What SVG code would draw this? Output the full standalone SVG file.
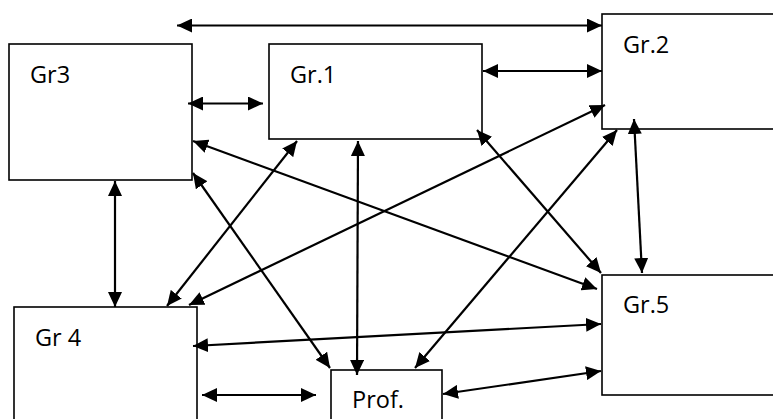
<svg xmlns="http://www.w3.org/2000/svg" width="773" height="419" viewBox="0 0 773 419">
<style>
.box{fill:#fff;stroke:#000;stroke-width:1.6}
.lbl{font-family:"Open Sans","Liberation Sans",sans-serif;font-size:23.5px;fill:#000}
.c{stroke:#000;stroke-width:2.2;fill:none;marker-start:url(#ah);marker-end:url(#ah)}
</style>
<defs>
<marker id="ah" markerUnits="userSpaceOnUse" markerWidth="15" markerHeight="14" refX="15" refY="7" orient="auto-start-reverse" viewBox="0 0 15 14">
<path d="M0,0 L15,7 L0,14 z" fill="#000"/>
</marker>
</defs>
<rect width="773" height="419" fill="#fff"/>
<g id="gr3"><rect class="box" x="9" y="44" width="183" height="136"/><text class="lbl" x="30" y="83">Gr3</text></g>
<g id="gr1"><rect class="box" x="269" y="44" width="213" height="95"/><text class="lbl" x="290" y="83">Gr.1</text></g>
<g id="gr2"><rect class="box" x="602" y="14" width="180" height="115"/><text class="lbl" x="623" y="53">Gr.2</text></g>
<g id="gr4"><rect class="box" x="14" y="307" width="183" height="120"/><text class="lbl" x="35" y="346">Gr 4</text></g>
<g id="prof"><rect class="box" x="331" y="370" width="111" height="60"/><text class="lbl" x="352" y="408">Prof.</text></g>
<g id="gr5"><rect class="box" x="602" y="275" width="180" height="120"/><text class="lbl" x="623" y="313">Gr.5</text></g>
<g id="connectors">
<line class="c" x1="177" y1="25.5" x2="602" y2="25.5"/>
<line class="c" x1="188" y1="103.5" x2="263" y2="103.5"/>
<line class="c" x1="483" y1="71" x2="602" y2="71"/>
<line class="c" x1="115" y1="181" x2="115" y2="307"/>
<line class="c" x1="193" y1="141" x2="597" y2="289"/>
<line class="c" x1="193" y1="173" x2="330" y2="368"/>
<line class="c" x1="297" y1="141" x2="167" y2="306"/>
<line class="c" x1="358" y1="141" x2="357" y2="375"/>
<line class="c" x1="477" y1="130" x2="601" y2="273"/>
<line class="c" x1="605" y1="105" x2="189" y2="305"/>
<line class="c" x1="617" y1="130" x2="415" y2="368"/>
<line class="c" x1="634" y1="119" x2="642" y2="273"/>
<line class="c" x1="193" y1="346" x2="601" y2="324"/>
<line class="c" x1="202" y1="395" x2="316" y2="395"/>
<line class="c" x1="443" y1="394" x2="601" y2="371"/>
</g>
</svg>
